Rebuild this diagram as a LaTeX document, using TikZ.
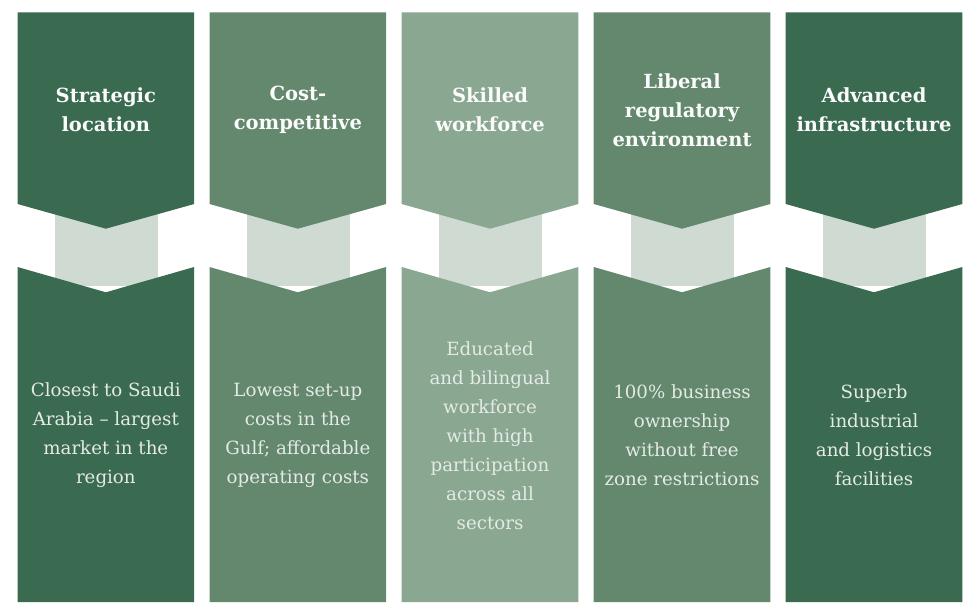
\documentclass[tikz,border=0pt]{standalone}
\usepackage{fontspec}
\setmainfont{DejaVu Serif}
\definecolor{gdark}{RGB}{58,106,80}
\definecolor{gmid}{RGB}{99,136,110}
\definecolor{glight}{RGB}{138,168,145}
\definecolor{gpale}{RGB}{206,218,210}
\definecolor{headtxt}{RGB}{250,251,250}
\definecolor{bodytxt}{RGB}{228,234,229}
\tikzset{
  headtext/.style={text=headtxt,align=center,font=\fontsize{19.5}{29}\selectfont\bfseries,inner sep=0pt},
  bodytext/.style={text=bodytxt,align=center,font=\fontsize{18.2}{29}\selectfont,inner sep=0pt}
}
\newcommand{\pillar}[5]{%
  % #1 left x, #2 colour, #3 name, #4 heading, #5 body
  \fill[gpale] (#1+37.5,205) rectangle (#1+140,286);
  \fill[#2] (#1,12.5) -- (#1+176.7,12.5) -- (#1+176.7,204) -- (#1+88.35,228.7) -- (#1,204) -- cycle;
  \fill[#2] (#1,267) -- (#1+88.35,292.3) -- (#1+176.7,267) -- (#1+176.7,602) -- (#1,602) -- cycle;
  \node[headtext] (#3h) at (#1+88.35,110) {#4};
  \node[bodytext] (#3b) at (#1+88.35,435.5) {#5};
}
\begin{document}
\begin{tikzpicture}[x=1pt,y=-1pt]
\useasboundingbox (0,0) rectangle (970,607);
\fill[white] (0,0) rectangle (970,607);
\pillar{17.5}{gdark}{p1}{Strategic\\location}{Closest to Saudi\\Arabia – largest\\market in the\\region}
\pillar{209.5}{gmid}{p2}{Cost-\\competitive}{Lowest set-up\\costs in the\\Gulf; affordable\\operating costs}
\pillar{401.7}{glight}{p3}{Skilled\\workforce}{Educated\\and bilingual\\workforce\\with high\\participation\\across all\\sectors}
\pillar{593.7}{gmid}{p4}{Liberal\\regulatory\\environment}{100\% business\\ownership\\without free\\zone restrictions}
\pillar{785.7}{gdark}{p5}{Advanced\\infrastructure}{Superb\\industrial\\and logistics\\facilities}
\end{tikzpicture}
\end{document}
